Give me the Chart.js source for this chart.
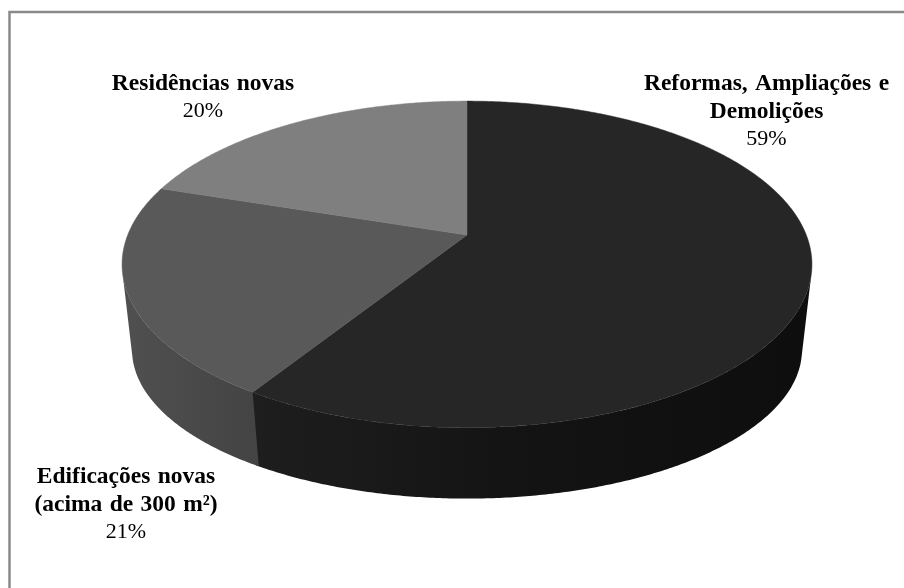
<!DOCTYPE html>
<html lang="pt">
  <head>
    <meta charset="UTF-8" />
    <title>Obras</title>
    <script src="https://cdn.jsdelivr.net/npm/chart.js@4"></script>
    <style>
      html,
      body {
        margin: 0;
        padding: 0;
        background: #fff;
      }
      #wrap {
        position: relative;
        width: 904px;
        height: 588px;
        overflow: hidden;
      }
    </style>
  </head>
  <body>
    <div id="wrap"><canvas id="pie" width="904" height="588"></canvas></div>
    <script>
      const categories = [
        ["Reformas, Ampliações e", "Demolições"],
        ["Edificações novas", "(acima de 300 m²)"],
        ["Residências novas"],
      ];
      const shares = [59, 21, 20];
      const topColors = ["#262626", "#595959", "#7f7f7f"];
      const wallColors = [
        ["#1e1e1e", "#131313", "#0e0e0e"],
        ["#505050", "#4a4a4a", "#444444"],
        ["#666666", "#666666", "#666666"],
      ];
      const labelAnchors = [
        [766.5, 84],
        [126, 477],
        [203, 84],
      ];

      // tilted disc: k is the perspective strength, y0 the height of the apex
      const K = 0.18;
      const topDisc = { x0: 467, y0: 235, r: 339.3, h: 158 };
      const bottomDisc = { x0: 467, y0: 323, r: 329.5, h: 144 };

      function project(disc, a) {
        const w = 1 - K * Math.sin(a);
        return [
          disc.x0 + (disc.r * Math.cos(a)) / w,
          disc.y0 + (disc.h * Math.sin(a)) / w,
        ];
      }

      function addPolygon(ctx, pts) {
        pts.forEach((p, i) => (i ? ctx.lineTo(p[0], p[1]) : ctx.moveTo(p[0], p[1])));
        ctx.closePath();
      }

      function signedArea(pts) {
        let sum = 0;
        pts.forEach((p, i) => {
          const q = pts[(i + 1) % pts.length];
          sum += p[0] * q[1] - q[0] * p[1];
        });
        return sum / 2;
      }

      function arcPoints(disc, start, end) {
        const n = Math.ceil(Math.abs(end - start) * 120);
        const pts = [];
        for (let i = 0; i <= n; i++) {
          pts.push(project(disc, start + ((end - start) * i) / n));
        }
        return pts;
      }

      const tiltedPie = {
        id: "tiltedPie",
        beforeDatasetDraw(chart, args) {
          const ctx = chart.ctx;
          const arcs = chart.getDatasetMeta(args.index).data;

          // side walls first, the top surface covers whatever is behind it
          arcs.forEach((arc, i) => {
            // a little overlap, the next wall paints over the joint
            const end = arc.endAngle + 0.01;
            const top = arcPoints(topDisc, arc.startAngle, end);
            const bottom = arcPoints(bottomDisc, arc.startAngle, end);
            const xs = top.map((p) => p[0]);
            const grad = ctx.createLinearGradient(
              Math.min(...xs), 0, Math.max(...xs), 0
            );
            const stops = wallColors[i];
            stops.forEach((c, j) => grad.addColorStop(j / (stops.length - 1), c));
            ctx.fillStyle = grad;
            // only the quads facing the viewer, all in one path so that no
            // seams show between neighbours
            ctx.beginPath();
            for (let s = 0; s < top.length - 1; s++) {
              const quad = [top[s], top[s + 1], bottom[s + 1], bottom[s]];
              if (signedArea(quad) < 0) addPolygon(ctx, quad);
            }
            ctx.fill();
          });

          arcs.forEach((arc, i) => {
            const top = arcPoints(topDisc, arc.startAngle, arc.endAngle);
            top.push([topDisc.x0, topDisc.y0]);
            ctx.fillStyle = topColors[i];
            ctx.strokeStyle = topColors[i];
            ctx.lineWidth = 0.5;
            ctx.beginPath();
            addPolygon(ctx, top);
            ctx.fill();
            ctx.stroke();
          });
          return false;
        },
        afterDraw(chart) {
          const ctx = chart.ctx;
          ctx.save();
          ctx.textAlign = "center";
          ctx.textBaseline = "middle";
          ctx.fillStyle = "#000";
          categories.forEach((lines, i) => {
            const [x, y] = labelAnchors[i];
            ctx.font = "bold 23.5px 'Liberation Serif'";
            ctx.wordSpacing = "1.5px";
            lines.forEach((line, j) => ctx.fillText(line, x, y + j * 27.5));
            ctx.font = "22px 'Liberation Serif'";
            ctx.wordSpacing = "0px";
            ctx.fillText(shares[i] + "%", x, y + lines.length * 27.5);
          });
          ctx.restore();
        },
      };

      // grey frame of the chart area
      const frame = {
        id: "frame",
        beforeDraw(chart) {
          const ctx = chart.ctx;
          ctx.save();
          ctx.strokeStyle = "#8a8a8a";
          ctx.lineWidth = 2.5;
          ctx.beginPath();
          ctx.moveTo(9.5, 588);
          ctx.lineTo(9.5, 12);
          ctx.lineTo(904, 12);
          ctx.stroke();
          ctx.restore();
        },
      };

      new Chart(document.getElementById("pie"), {
        type: "pie",
        data: {
          labels: categories.map((c) => c.join(" ")),
          datasets: [{ data: shares, backgroundColor: topColors, borderWidth: 0 }],
        },
        options: {
          responsive: false,
          animation: false,
          plugins: { legend: { display: false }, tooltip: { enabled: false } },
        },
        plugins: [frame, tiltedPie],
      });
    </script>
  </body>
</html>
